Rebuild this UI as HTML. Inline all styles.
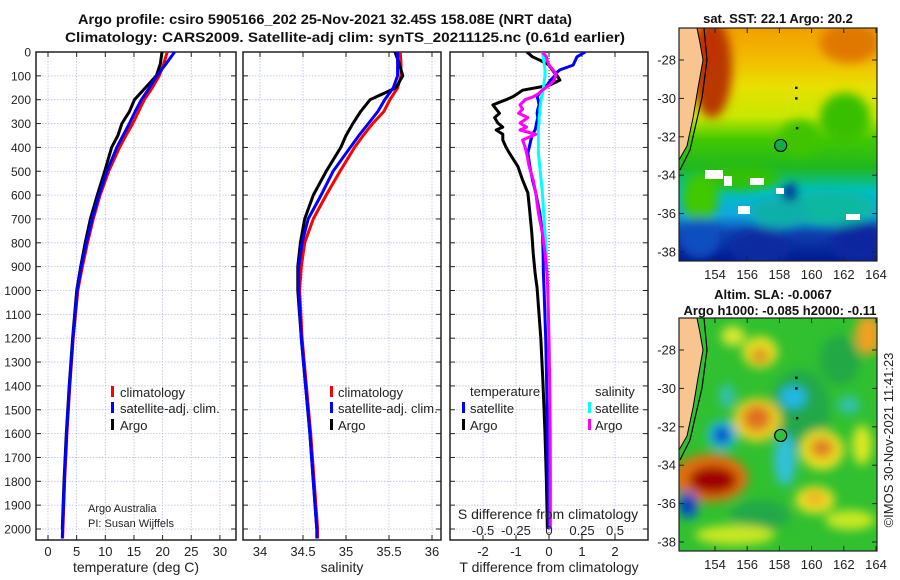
<!DOCTYPE html>
<html><head><meta charset="utf-8"><style>
html,body{margin:0;padding:0;background:#fff;}
svg{display:block;font-family:"Liberation Sans","DejaVu Sans",sans-serif;}
</style></head><body>
<svg id="fig" width="900" height="580" viewBox="0 0 900 580" xmlns="http://www.w3.org/2000/svg">
<defs>
 <clipPath id="c1"><rect x="36" y="52" width="200" height="488"/></clipPath>
 <clipPath id="c2"><rect x="243" y="52" width="198" height="488"/></clipPath>
 <clipPath id="c3"><rect x="450" y="52" width="198" height="488"/></clipPath>
 <clipPath id="m1"><rect x="679" y="28" width="198" height="233"/></clipPath>
 <clipPath id="m2"><rect x="679" y="318" width="198" height="233"/></clipPath>
 <filter id="blur" x="-30%" y="-30%" width="160%" height="160%"><feGaussianBlur stdDeviation="5"/></filter>
 <filter id="blur2" x="-20%" y="-20%" width="140%" height="140%"><feGaussianBlur stdDeviation="5"/></filter>
 <linearGradient id="sstg" x1="0" y1="0" x2="0" y2="1">
  <stop offset="0" stop-color="#f0a000"/><stop offset="0.12" stop-color="#f4b800"/>
  <stop offset="0.25" stop-color="#e8e000"/><stop offset="0.38" stop-color="#c8e800"/>
  <stop offset="0.48" stop-color="#40c800"/><stop offset="0.6" stop-color="#20b820"/>
  <stop offset="0.7" stop-color="#00c0c0"/><stop offset="0.8" stop-color="#10a8e0"/>
  <stop offset="0.88" stop-color="#1040b0"/><stop offset="1" stop-color="#001890"/>
 </linearGradient>
</defs>
<g font-weight="bold" font-size="14" text-anchor="middle" fill="#111">
 <text x="325" y="24" textLength="494" lengthAdjust="spacingAndGlyphs">Argo profile: csiro 5905166_202 25-Nov-2021 32.45S 158.08E (NRT data)</text>
 <text x="345" y="42" textLength="560" lengthAdjust="spacingAndGlyphs">Climatology: CARS2009. Satellite-adj clim: synTS_20211125.nc (0.61d earlier)</text>
</g>
<g id="panels"></g>
<g id="maps"></g>
</svg>
<script>
// ---- profile data ----
const depths = [0,50,100,150,200,250,300,350,400,500,600,700,800,900,1000,1200,1400,1600,1800,2000,2040];
const argoDepths = [0,50,100,150,200,250,300,350,400,500,600,700,800,900,1000,1200,1400,1600,1800,2000];
const argoTemp = [19.9,19.6,18.9,17.0,15.1,14.2,12.9,12.2,11.1,9.9,8.6,7.4,6.5,5.7,5.0,4.3,3.7,3.2,2.8,2.5];
const climTemp = [20.8,20.2,19.4,18.2,16.8,15.8,14.8,13.6,12.5,10.6,9.1,7.9,6.9,6.0,5.2,4.4,3.8,3.3,2.9,2.6,2.55];
const satTemp = [22.1,20.6,19.0,17.7,16.3,15.2,14.2,13.1,12.0,10.3,8.9,7.7,6.7,5.8,5.1,4.35,3.75,3.25,2.85,2.55,2.5];
const argoSal = [35.57,35.62,35.66,35.58,35.28,35.17,35.08,35.0,34.94,34.77,34.62,34.52,34.47,34.44,34.44,34.48,34.53,34.58,34.62,34.66];
const climSal = [35.63,35.64,35.64,35.6,35.51,35.44,35.31,35.2,35.1,34.93,34.77,34.62,34.52,34.48,34.46,34.49,34.54,34.59,34.63,34.67,34.67];
const satSal = [35.6,35.6,35.6,35.55,35.45,35.37,35.26,35.15,35.05,34.85,34.71,34.56,34.49,34.45,34.45,34.48,34.53,34.58,34.62,34.66,34.66];
const diffDepths = [0,20,35,55,75,90,100,118,140,160,175,188,200,222,240,257,275,298,315,327,345,369,400,424,481,537,591,675,759,843,927,990,1200,1400,1600,1800,2000];
const argoTdiff = [-0.67,-0.5,-0.27,0,0.1,0.18,0.25,0.33,0.0,-0.8,-0.95,-1.1,-1.3,-1.7,-1.6,-1.5,-1.65,-1.55,-1.4,-1.6,-1.4,-1.4,-1.3,-1.2,-0.94,-0.8,-0.64,-0.58,-0.52,-0.48,-0.42,-0.36,-0.25,-0.18,-0.12,-0.08,-0.05];
const satTdiff = [1.1,0.85,0.8,0.73,0.33,0.2,0.18,0.05,-0.06,-0.2,-0.3,-0.36,-0.33,-0.3,-0.34,-0.36,-0.34,-0.38,-0.4,-0.42,-0.5,-0.55,-0.6,-0.64,-0.58,-0.5,-0.4,-0.28,-0.2,-0.18,-0.17,-0.15,-0.1,-0.07,-0.05,-0.03,-0.01];
const argoSdiff = [-0.05,-0.02,-0.015,0.0,0.03,0.05,0.05,0.04,0.0,-0.05,-0.08,-0.12,-0.18,-0.22,-0.2,-0.23,-0.16,-0.22,-0.17,-0.22,-0.1,-0.2,-0.18,-0.17,-0.15,-0.12,-0.1,-0.08,-0.05,-0.03,-0.015,-0.01,0.0,0.005,0.008,0.01,0.01];
const satSdiff = [-0.05,-0.045,-0.04,-0.035,-0.03,-0.03,-0.03,-0.035,-0.04,-0.045,-0.05,-0.055,-0.06,-0.065,-0.07,-0.07,-0.075,-0.075,-0.08,-0.08,-0.08,-0.08,-0.08,-0.08,-0.07,-0.06,-0.05,-0.04,-0.03,-0.02,-0.015,-0.01,0,0.005,0.01,0.01,0.01];
const depthTicks = [0,100,200,300,400,500,600,700,800,900,1000,1100,1200,1300,1400,1500,1600,1700,1800,1900,2000];
const tempTicks = [0,5,10,15,20,25,30];
const salTicks = [34,34.5,35,35.5,36];
const tdiffTicks = [-2,-1,0,1,2];
const sdiffTicks = [-0.5,-0.25,0,0.25,0.5];
const sdiffTickLabels = ["-0.5","-0.25","0","0.25","0.5"];
const latTicks = [-28,-30,-32,-34,-36,-38];
const lonTicks = [154,156,158,160,162,164];

const NS="http://www.w3.org/2000/svg";
function mk(tag,attrs,parent){const e=document.createElementNS(NS,tag);for(const k in attrs)e.setAttribute(k,attrs[k]);(parent||document.getElementById('panels')).appendChild(e);return e;}
const yD = d => 52 + d*0.2385;
const xT = t => 48 + t*5.73;
const xS = s => 260 + (s-34)*86;
const xTd = t => 549 + t*33;
const xSd = s => 549 + s*132;
const TOP=52,BOT=540;

function frame(name,left,right,xticks,xf,labels){
  const g=mk('g',{});
  
  
  depthTicks.forEach(d=>{ if(d>0) mk('line',{x1:left,x2:right,y1:yD(d),y2:yD(d),stroke:'#b8bfe6','stroke-width':0.8,'stroke-dasharray':'1.5 1.5'},g);
    mk('line',{x1:left,x2:left+5,y1:yD(d),y2:yD(d),stroke:'#222','stroke-width':1},g);
    mk('line',{x1:right-5,x2:right,y1:yD(d),y2:yD(d),stroke:'#222','stroke-width':1},g);});
  xticks.forEach((v,i)=>{const x=xf(v);
    mk('line',{x1:x,x2:x,y1:TOP,y2:BOT,stroke:'#b8bfe6','stroke-width':0.8,'stroke-dasharray':'1.5 1.5'},g);
    mk('line',{x1:x,x2:x,y1:TOP,y2:TOP+5,stroke:'#222'},g);
    mk('line',{x1:x,x2:x,y1:BOT-5,y2:BOT,stroke:'#222'},g);
    if(labels){const t=mk('text',{x:x,y:556,'font-size':13,'text-anchor':'middle',fill:'#222'},g);t.textContent=labels[i];}
  });
  mk('rect',{x:left,y:TOP,width:right-left,height:BOT-TOP,fill:'none',stroke:'#222','stroke-width':1.5},g);
  return g;
}
function line(name,ds,vs,xf,color,clip,w){
  const pts=vs.map((v,i)=>xf(v).toFixed(1)+','+yD(ds[i]).toFixed(1)).join(' ');
  const p=mk('polyline',{points:pts,fill:'none',stroke:color,'stroke-width':w||3,'stroke-linejoin':'round','clip-path':'url(#'+clip+')'});
  
  
}
function txt(name,x,y,s,size,anchor,extra){const t=mk('text',Object.assign({x:x,y:y,'font-size':size||13,'text-anchor':anchor||'start',fill:'#222'},extra||{}));t.textContent=s;
  
  return t;}
function legendMark(name,x,y,color){const r=mk('rect',{x:x,y:y-6,width:3,height:11,fill:color});
  
  }

// panel 1 temperature
frame('temperature-panel',36,236,tempTicks,xT,tempTicks.map(String));
depthTicks.forEach(d=>{txt('depth-tick-label',31,yD(d)+4.5,String(d),12,'end');});
line('temp-climatology-line',depths,climTemp,xT,'#ff0000','c1');
line('temp-argo-line',argoDepths,argoTemp,xT,'#000','c1');
line('temp-satellite-line',depths,satTemp,xT,'#0000ff','c1');
txt('temperature-axis-title',136,572,'temperature (deg C)',14,'middle');
legendMark('legend-climatology-mark',111,392,'#ff0000');txt('legend-climatology',120,397,'climatology',13);
legendMark('legend-satellite-mark',111,408,'#0000ff');txt('legend-satellite',120,413,'satellite-adj. clim.',13);
legendMark('legend-argo-mark',111,425,'#000');txt('legend-argo',120,430,'Argo',13);
txt('credit-argo-australia',88,512,'Argo Australia',11);
txt('credit-pi',88,527,'PI: Susan Wijffels',11);

// panel 2 salinity
frame('salinity-panel',243,441,salTicks,xS,salTicks.map(String));
line('sal-climatology-line',depths,climSal,xS,'#ff0000','c2');
line('sal-argo-line',argoDepths,argoSal,xS,'#000','c2');
line('sal-satellite-line',depths,satSal,xS,'#0000ff','c2');
txt('salinity-axis-title',342,572,'salinity',14,'middle');
legendMark('legend2-climatology-mark',330,392,'#ff0000');txt('legend2-climatology',338,397,'climatology',13);
legendMark('legend2-satellite-mark',330,408,'#0000ff');txt('legend2-satellite',338,413,'satellite-adj. clim.',13);
legendMark('legend2-argo-mark',330,425,'#000');txt('legend2-argo',338,430,'Argo',13);

// panel 3 differences
frame('difference-panel',450,648,tdiffTicks,xTd,tdiffTicks.map(String));
mk('line',{x1:549,x2:549,y1:TOP,y2:BOT,stroke:'#333','stroke-width':1,'stroke-dasharray':'1 2'});
line('tdiff-argo-line',diffDepths,argoTdiff,xTd,'#000','c3');
line('tdiff-satellite-line',diffDepths,satTdiff,xTd,'#0000ff','c3');
line('sdiff-satellite-line',diffDepths,satSdiff,xSd,'#00ffff','c3');
line('sdiff-argo-line',diffDepths,argoSdiff,xSd,'#ff00ff','c3');
txt('tdiff-axis-title',549,572,'T difference from climatology',14,'middle');
txt('sdiff-axis-title',548,519,'S difference from climatology',14,'middle');
sdiffTicks.forEach((v,i)=>txt('sdiff-tick-label',xSd(v),535,sdiffTickLabels[i],13,'middle'));
txt('legend3-temperature-heading',470,396,'temperature',13);
txt('legend3-salinity-heading',595,396,'salinity',13);
legendMark('legend3-tsat-mark',462,408,'#0000ff');txt('legend3-tsat',470,413,'satellite',13);
legendMark('legend3-targo-mark',462,425,'#000');txt('legend3-targo',470,430,'Argo',13);
legendMark('legend3-ssat-mark',588,408,'#00ffff');txt('legend3-ssat',595,413,'satellite',13);
legendMark('legend3-sargo-mark',588,425,'#ff00ff');txt('legend3-sargo',595,430,'Argo',13);

// ---- maps ----
const mapsG=document.getElementById('maps');
function mm(tag,a,p){return mk(tag,a,p||mapsG);}
function mapFrame(name,top,clip,isSST){
  const g=mm('g',{'clip-path':'url(#'+clip+')'});
  
  
  if(isSST){
    mm('rect',{x:679,y:top,width:198,height:233,fill:'url(#sstg)'},g);
    const b=mm('g',{filter:'url(#blur2)'},g);
    [[712,top+40,20,50,'#b83800'],[705,top+20,15,20,'#c03000'],[850,top+15,30,20,'#e07800'],[845,top+90,25,25,'#38c000'],[800,top+110,20,18,'#40c400'],[740,top+150,40,12,'#30c000'],
     [830,top+180,45,18,'#10b8a0'],[780,top+185,30,15,'#10b0a8'],[700,top+170,18,25,'#40c800'],[860,top+215,30,20,'#0828a0'],[760,top+220,30,18,'#0a2aa0'],[700,top+210,20,20,'#1050c0'],[790,top+165,8,8,'#001090']]
     .forEach(c=>mm('ellipse',{cx:c[0],cy:c[1],rx:c[2],ry:c[3],fill:c[4]},b));
    [[705,top+142,18,9],[724,top+148,8,10],[750,top+150,14,7],[738,top+178,12,8],[846,top+186,14,6],[776,top+160,8,6]].forEach(w=>mm('rect',{x:w[0],y:w[1],width:w[2],height:w[3],fill:'#fff'},g));
  } else {
    mm('rect',{x:679,y:top,width:198,height:233,fill:'#30c030'},g);
    const b=mm('g',{filter:'url(#blur)'},g);
    [[800,410,30,40,'#20a848'],[840,360,20,25,'#22a844'],[760,515,30,15,'#22a848'],
     [760,352,18,16,'#e0e020'],[760,356,9,8,'#e09020'],[733,336,12,10,'#d8e830'],
     [868,335,13,20,'#f0a020'],[757,420,24,22,'#e8d020'],[757,418,14,13,'#e07020'],
     [822,450,22,20,'#e8e020'],[822,448,12,10,'#e08020'],[815,500,20,14,'#e8e020'],[815,498,10,7,'#f0b020'],
     [862,445,10,20,'#d8e820'],[710,478,38,24,'#e07010'],[713,480,24,14,'#a00000'],
     [722,435,15,15,'#20b8e0'],[722,435,8,8,'#0030c0'],[688,505,10,14,'#1060d0'],[688,505,5,7,'#0020a0'],
     [793,397,13,11,'#20b8e8'],[785,460,11,26,'#30c0d8'],[849,405,11,9,'#30c0b0'],[727,396,8,12,'#30c0b0'],
     [735,535,40,10,'#c8e820'],[850,520,25,10,'#c8e820']]
     .forEach(c=>mm('ellipse',{cx:c[0],cy:c[1],rx:c[2],ry:c[3],fill:c[4]},b));
  }
  const land=mm('polygon',{points:`679,${top} 697,${top} 700,${top+15} 703,${top+32} 698,${top+60} 693,${top+90} 687,${top+118} 679,${top+132}`,fill:'#f8c490',stroke:'#000','stroke-width':1},g);
  
  
  mm('polyline',{points:`704,${top} 707,${top+32} 702,${top+70} 695,${top+100} 690,${top+122} 680,${top+142}`,fill:'none',stroke:'#000','stroke-width':1.2},g);
  const lx=lon=>715+(lon-154)*16.1, ly=lat=>top+32+(-28-lat)*19.2;
  [[159.05,-29.45],[159.05,-30.0],[159.1,-31.55]].forEach(p=>mm('rect',{x:lx(p[0])-1.2,y:ly(p[1])-1.2,width:2.4,height:2.4,fill:'#000'},g));
  const c=mm('circle',{cx:lx(158.08),cy:ly(-32.45),r:6,fill:isSST?'#10b040':'#30c040',stroke:'#000','stroke-width':1.2},g);
  
  
  const f=mm('g',{});
  
  
  mm('rect',{x:679,y:top,width:198,height:233,fill:'none',stroke:'#222','stroke-width':1.2},f);
  latTicks.forEach(l=>{mm('line',{x1:877,x2:872,y1:ly(l),y2:ly(l),stroke:'#222'},f);mm('line',{x1:679,x2:684,y1:ly(l),y2:ly(l),stroke:'#222'},f);
    const t=mm('text',{x:676,y:ly(l)+4.5,'font-size':13,fill:'#222','text-anchor':'end'},f);t.textContent=String(l);});
  lonTicks.forEach(l=>{mm('line',{x1:lx(l),x2:lx(l),y1:top+233,y2:top+228,stroke:'#222'},f);mm('line',{x1:lx(l),x2:lx(l),y1:top,y2:top+5,stroke:'#222'},f);
    const t=mm('text',{x:lx(l),y:top+251,'font-size':13,'text-anchor':'middle',fill:'#222'},f);t.textContent=String(l);});
}
mapFrame('sst-map',28,'m1',true);
mapFrame('sla-map',318,'m2',false);
function mt(name,x,y,s,extra){const t=mm('text',Object.assign({x:x,y:y,'font-size':13,'font-weight':'bold','text-anchor':'middle',fill:'#111'},extra||{}));t.textContent=s;
  
  }
mt('sst-map-title',778,23,'sat. SST: 22.1 Argo: 20.2');
mt('sla-map-title',773,299,'Altim. SLA: -0.0067');
mt('argo-height-title',780,315,'Argo h1000: -0.085 h2000: -0.11');
const st=mm('text',{x:0,y:0,'font-size':13,fill:'#222','text-anchor':'middle',transform:'translate(893,440) rotate(-90)'});
st.textContent='©IMOS 30-Nov-2021 11:41:23';


</script>
</body></html>
